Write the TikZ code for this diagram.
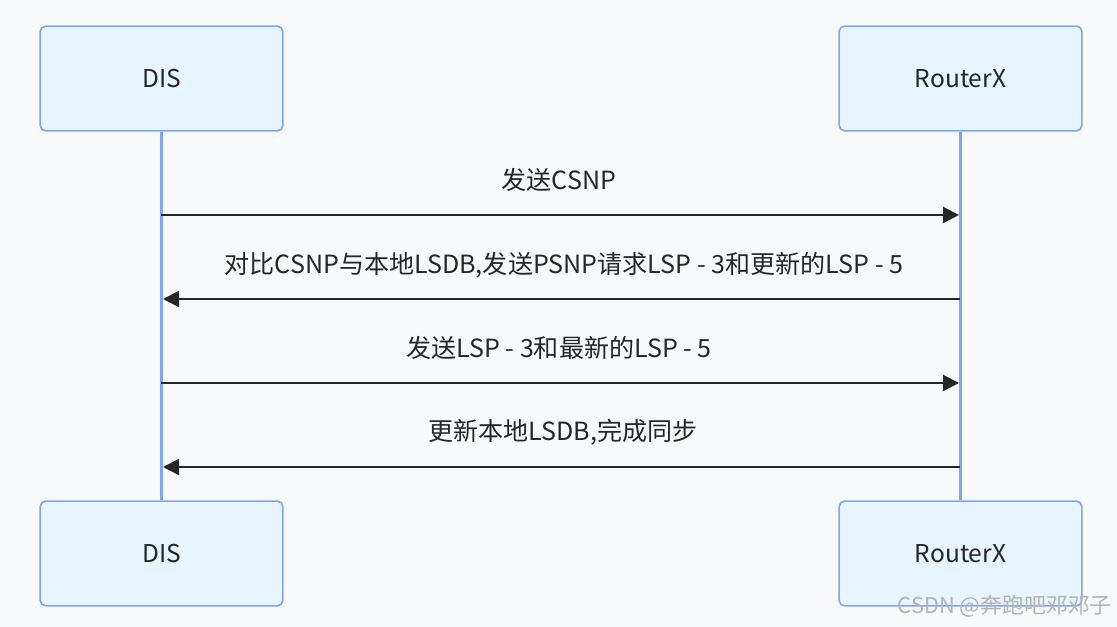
\documentclass[tikz,border=0pt]{standalone}
\usepackage{fontspec}
\setmainfont{Noto Sans CJK SC}
\usetikzlibrary{arrows.meta}
\definecolor{bg}{HTML}{F8F9FB}
\definecolor{boxfill}{HTML}{E6F5FF}
\definecolor{boxline}{HTML}{7CA6FA}
\definecolor{txt}{HTML}{262626}
\definecolor{wm}{HTML}{B4B4B4}
\tikzset{
  actor/.style={draw=boxline, fill=boxfill, line width=1.2pt, rounded corners=4pt,
    minimum width=182pt, minimum height=78.5pt, inner sep=0pt,
    font=\fontsize{18.4}{21}\selectfont, text=txt},
  life/.style={draw=boxline, line width=1.7pt},
  msg/.style={draw=txt, line width=1.5pt, -{Triangle[length=12pt,width=12pt]}},
  msglabel/.style={font=\fontsize{18.8}{22}\selectfont, text=txt, inner sep=0pt}
}
\begin{document}
\begin{tikzpicture}[x=0.75pt, y=-0.75pt]
\fill[bg] (0,0) rectangle (1117,627);
\useasboundingbox (0,0) rectangle (1117,627);
\node[actor] (dtop) at (161.5,78.5) {DIS};
\node[actor] (rtop) at (960.5,78.5) {RouterX};
\node[actor] (dbot) at (161.5,553.5) {DIS};
\node[actor] (rbot) at (960.5,553.5) {RouterX};
\draw[life] (dtop.south) -- (dbot.north);
\draw[life] (rtop.south) -- (rbot.north);
\coordinate (d1) at (161,215); \coordinate (r1) at (959,215);
\coordinate (d2) at (163,299); \coordinate (r2) at (960,299);
\coordinate (d3) at (161,383); \coordinate (r3) at (959,383);
\coordinate (d4) at (163,467); \coordinate (r4) at (960,467);
\draw[msg] (d1) -- (r1);
\draw[msg] (r2) -- (d2);
\draw[msg] (d3) -- (r3);
\draw[msg] (r4) -- (d4);
\node[msglabel] (l1) at (559,180) {发送CSNP};
\node[msglabel] (l2) at (564,265) {对比CSNP与本地LSDB,发送PSNP请求LSP - 3和更新的LSP - 5};
\node[msglabel] (l3) at (559,348) {发送LSP - 3和最新的LSP - 5};
\node[msglabel] (l4) at (563,432) {更新本地LSDB,完成同步};
\node[font=\fontsize{16.4}{19}\selectfont, text=wm, anchor=east, inner sep=0pt] (wm) at (1112,606) {CSDN @奔跑吧邓邓子};
\end{tikzpicture}
\end{document}
